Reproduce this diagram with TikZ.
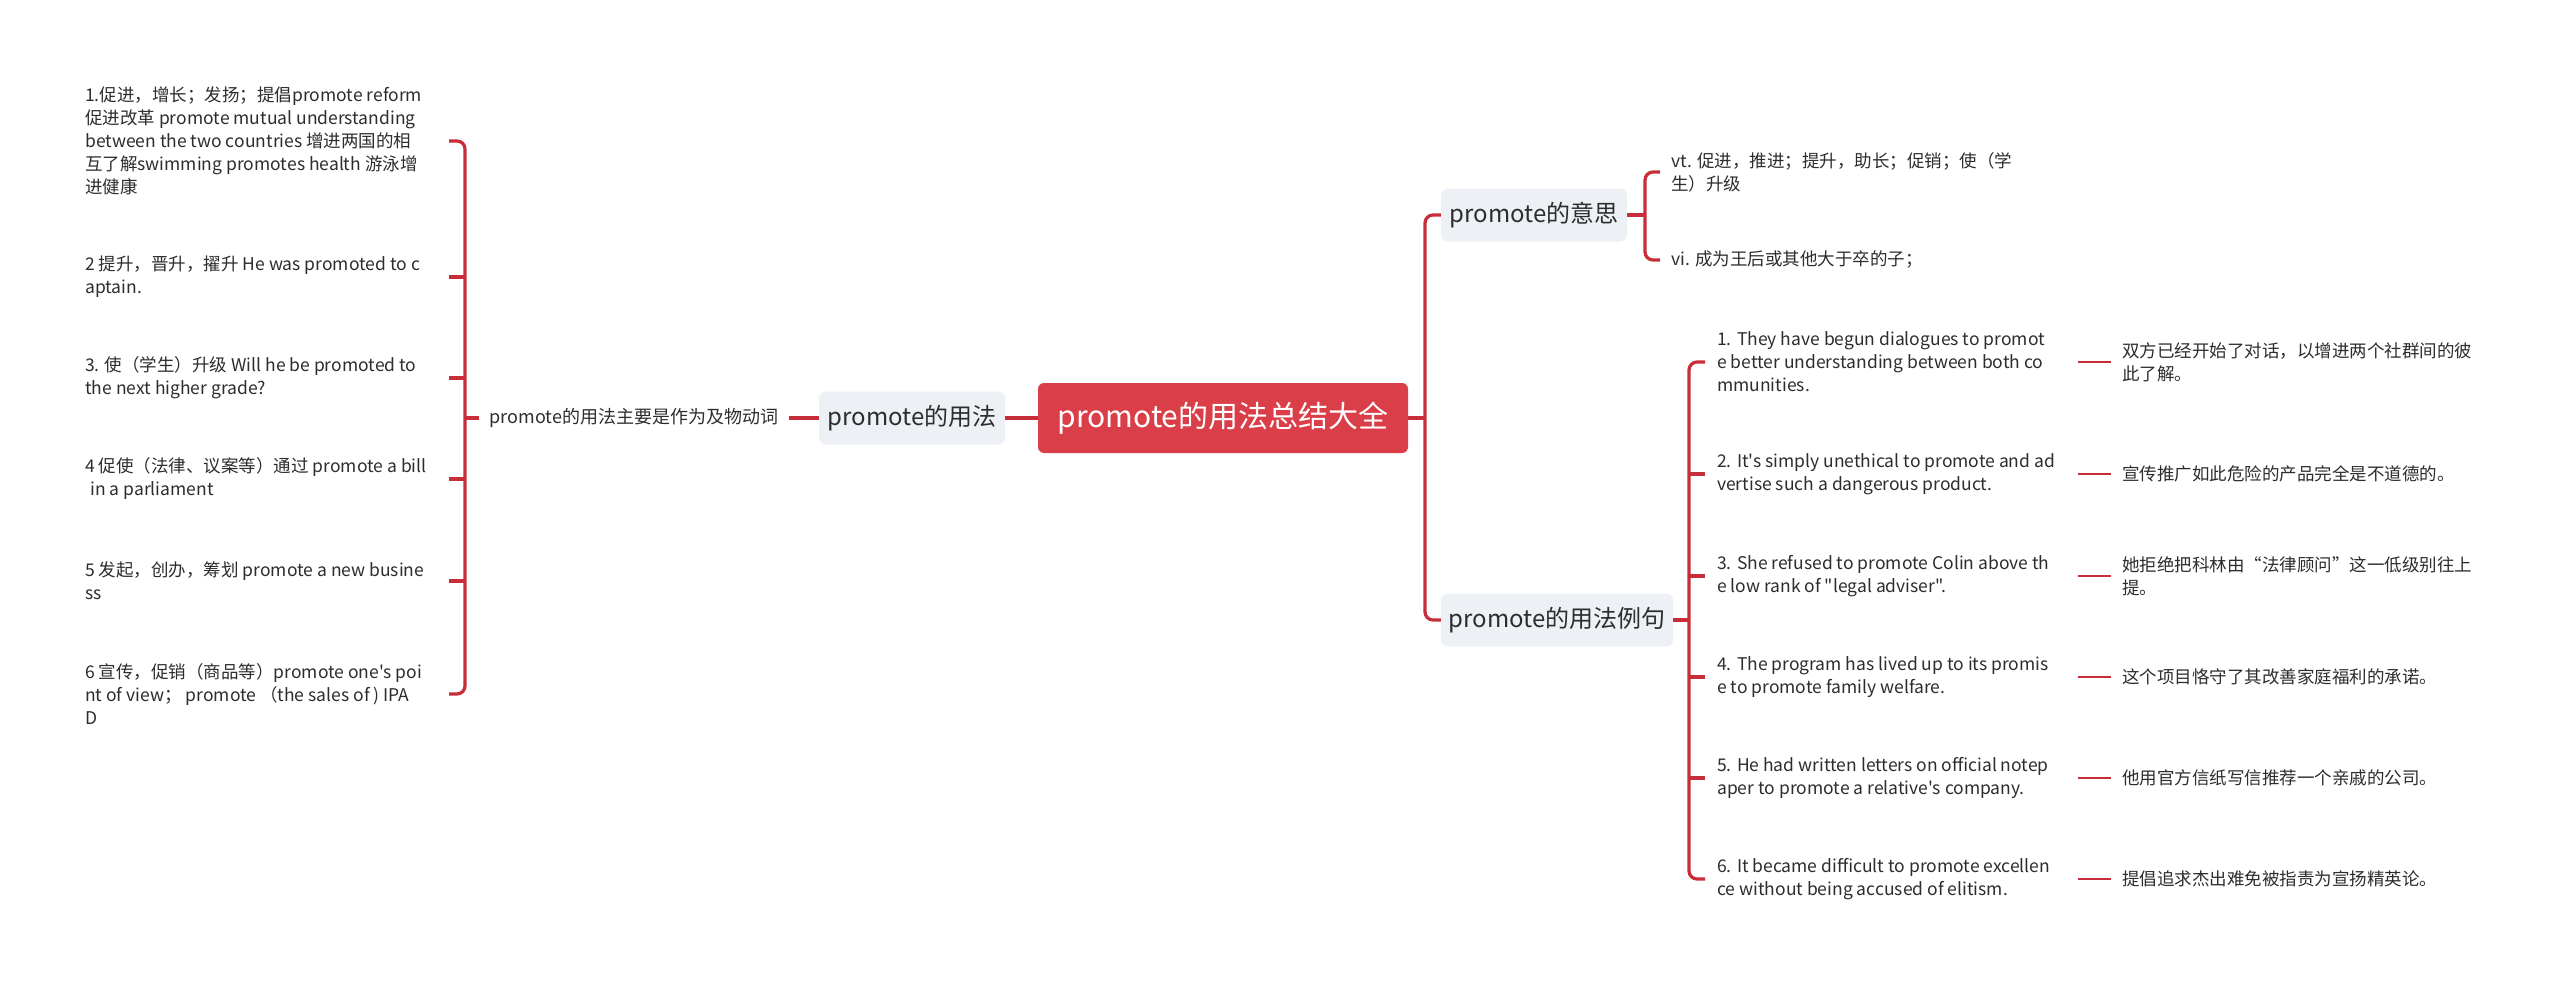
\documentclass[tikz,border=0pt]{standalone}
\usepackage{fontspec}
\newfontfamily\cjk{Noto Sans CJK SC}
\definecolor{linec}{RGB}{200,45,58}
\definecolor{rootc}{RGB}{218,62,72}
\definecolor{boxc}{RGB}{237,240,244}
\definecolor{txtc}{RGB}{45,45,45}
\begin{document}
\begin{tikzpicture}[x=1bp,y=-1bp,
  conn/.style={draw=linec,line width=3.2bp},
  thinconn/.style={draw=linec,line width=2.6bp},
  rootbox/.style={fill=rootc,rounded corners=6bp,minimum width=370bp,minimum height=70bp,inner sep=0,text=white,font=\cjk\fontsize{30bp}{36bp}\selectfont},
  branchbox/.style={fill=boxc,rounded corners=7bp,minimum height=53bp,inner sep=0,text=txtc,font=\cjk\fontsize{24bp}{29bp}\selectfont},
  leaf/.style={align=left,inner sep=0,text=txtc,font=\cjk\fontsize{17.5bp}{23bp}\selectfont,anchor=west},
  midtext/.style={inner xsep=11bp,inner ysep=0,text=txtc,font=\cjk\fontsize{18bp}{23bp}\selectfont}
]
\fill[white] (0,0) rectangle (2560,987);
\useasboundingbox (0,0) rectangle (2560,987);

% main nodes
\node[rootbox] (root) at (1223,418) {promote的用法总结大全};
\node[branchbox,minimum width=186bp] (yf) at (912,418) {promote的用法};
\node[midtext] (mid) at (634,418) {promote的用法主要是作为及物动词};
\node[branchbox,minimum width=186bp] (ys) at (1534,215) {promote的意思};
\node[branchbox,minimum width=232bp] (lj) at (1557,620) {promote的用法例句};

% helper coordinates
\coordinate (Lv) at (465,418);
\coordinate (Lx) at (449,0);
\coordinate (Rv) at (1425,418);
\coordinate (Sv) at (1645,215);
\coordinate (Ev) at (1689,620);
\coordinate (Ex) at (2078,0);

% left leaves
\node[leaf] (l1) at (85,141) {1.促进，增长；发扬；提倡promote reform\\促进改革 promote mutual understanding\\between the two countries 增进两国的相\\互了解swimming promotes health 游泳增\\进健康};
\node[leaf] (l2) at (85,277) {2 提升，晋升，擢升 He was promoted to c\\aptain.};
\node[leaf] (l3) at (85,378) {3. 使（学生）升级 Will he be promoted to\\the next higher grade?};
\node[leaf] (l4) at (85,479) {4 促使（法律、议案等）通过 promote a bill\\\hspace*{0.3em}in a parliament};
\node[leaf] (l5) at (85,581) {5 发起，创办，筹划 promote a new busine\\ss};
\node[leaf] (l6) at (85,694) {6 宣传，促销（商品等）promote one's poi\\nt of view； promote （the sales of ) IPA\\D};

% meaning leaves
\node[leaf,inner xsep=11bp] (vt) at (1660,172) {vt. 促进，推进；提升，助长；促销；使（学\\生）升级};
\node[leaf,inner xsep=11bp] (vi) at (1660,260) {vi. 成为王后或其他大于卒的子；};

% example leaves
\node[leaf,inner xsep=12bp] (e1) at (1705,362) {1. They have begun dialogues to promot\\e better understanding between both co\\mmunities.};
\node[leaf,inner xsep=12bp] (e2) at (1705,474) {2. It's simply unethical to promote and ad\\vertise such a dangerous product.};
\node[leaf,inner xsep=12bp] (e3) at (1705,576) {3. She refused to promote Colin above th\\e low rank of "legal adviser".};
\node[leaf,inner xsep=12bp] (e4) at (1705,677) {4. The program has lived up to its promis\\e to promote family welfare.};
\node[leaf,inner xsep=12bp] (e5) at (1705,778) {5. He had written letters on official notep\\aper to promote a relative's company.};
\node[leaf,inner xsep=12bp] (e6) at (1705,879) {6. It became difficult to promote excellen\\ce without being accused of elitism.};

% translations
\node[leaf,inner xsep=11bp] (t1) at (2111,362) {双方已经开始了对话，以增进两个社群间的彼\\此了解。};
\node[leaf,inner xsep=11bp] (t2) at (2111,474) {宣传推广如此危险的产品完全是不道德的。};
\node[leaf,inner xsep=11bp] (t3) at (2111,576) {她拒绝把科林由“法律顾问”这一低级别往上\\提。};
\node[leaf,inner xsep=11bp] (t4) at (2111,677) {这个项目恪守了其改善家庭福利的承诺。};
\node[leaf,inner xsep=11bp] (t5) at (2111,778) {他用官方信纸写信推荐一个亲戚的公司。};
\node[leaf,inner xsep=11bp] (t6) at (2111,879) {提倡追求杰出难免被指责为宣扬精英论。};

% connectors: left side
\draw[conn] (root.west) -- (yf.east);
\draw[conn] (yf.west) -- (mid.east);
\draw[conn] (mid.west) -- (Lv);
\draw[conn,rounded corners=8bp] (l1.west -| Lx) -- (l1.west -| Lv) -- (l6.west -| Lv) -- (l6.west -| Lx);
\foreach \n in {l2,l3,l4,l5} \draw[conn] (\n.west -| Lv) -- (\n.west -| Lx);

% connectors: right side
\draw[conn] (root.east) -- (Rv);
\draw[conn,rounded corners=8bp] (ys.west) -- (ys.west -| Rv) -- (lj.west -| Rv) -- (lj.west);
\draw[conn] (ys.east) -- (Sv);
\draw[conn,rounded corners=8bp] (vt.west) -- (vt.west -| Sv) -- (vi.west -| Sv) -- (vi.west);
\draw[conn] (lj.east) -- (Ev);
\draw[conn,rounded corners=8bp] (e1.west) -- (e1.west -| Ev) -- (e6.west -| Ev) -- (e6.west);
\foreach \n in {e2,e3,e4,e5} \draw[conn] (\n.west -| Ev) -- (\n.west);
\foreach \i in {1,...,6} \draw[thinconn] (e\i.west -| Ex) -- (t\i.west);
\end{tikzpicture}
\end{document}
